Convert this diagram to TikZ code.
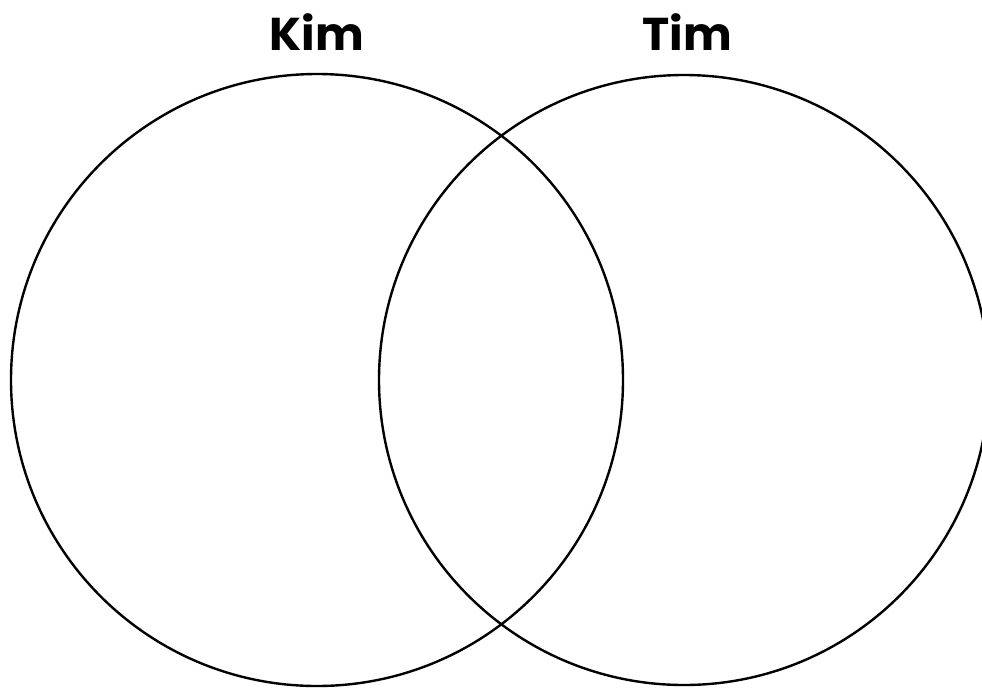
\documentclass[tikz,border=0pt]{standalone}
\usepackage{fontspec}
\setmainfont{Poppins}
\begin{document}
\begin{tikzpicture}[x=1pt,y=-1pt,
  ring/.style={draw=black,line width=2.4pt},
  lbl/.style={font=\fontsize{46}{50}\selectfont\bfseries,anchor=base}]
\useasboundingbox (0,0) rectangle (982,691);
\begin{scope}
\clip (0,0) rectangle (982,691);
\node[ring,circle,minimum size=612pt,inner sep=0pt] (kimc) at (317,380) {};
\node[ring,circle,minimum size=610pt,inner sep=0pt] (timc) at (684,380) {};
\end{scope}
\node[lbl] (kim) at (317,50) {Kim};
\node[lbl] (tim) at (687,50) {Tim};
\end{tikzpicture}
\end{document}
